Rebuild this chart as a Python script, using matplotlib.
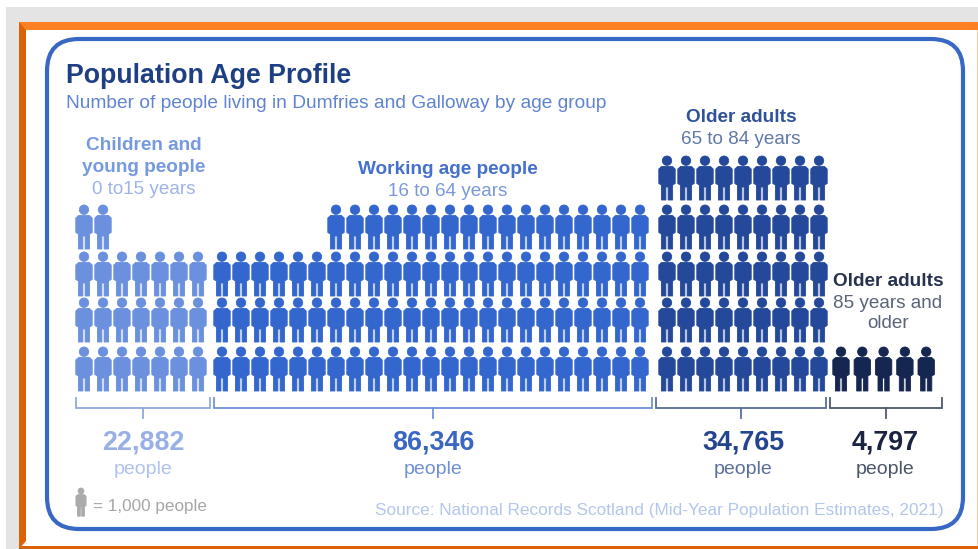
import matplotlib
matplotlib.use("Agg")
import matplotlib.pyplot as plt
from matplotlib.path import Path
from matplotlib.patches import PathPatch, Rectangle, FancyBboxPatch, Polygon
from matplotlib.transforms import Affine2D

plt.rcParams['font.family'] = ['Liberation Sans', 'DejaVu Sans']

# ---- data ----
totals = ["22,882", "86,346", "34,765", "4,797"]
children_columns = [4, 4, 3, 3, 3, 3, 3]
working_columns = [3, 3, 3, 3, 3, 3] + [4] * 17
older_columns = [5] * 9
oldest_columns = [1] * 5
column_heights = [children_columns, working_columns, older_columns, oldest_columns]
unit_label = "= 1,000 people"

# ---- styles ----
W, H = 979, 549
colors = ["#6B90DE", "#3467CE", "#25499A", "#152650"]
bracket_colors = ["#90A8E0", "#6E92DA", "#5A6E9C", "#4E5868"]
total_colors = ["#98B0E6", "#3A66C4", "#23448F", "#1A2440"]
people_colors = ["#AFC2EC", "#6F90D6", "#5A6E9C", "#4A5568"]
start_x = [84, 222, 667, 841]
step_x = [19, 19, 19, 21.3]
row_tops = [347, 298, 252, 205, 156]
bracket_x = [(76, 210), (214, 652), (656, 826), (830, 942)]
total_x = [143, 433, 743, 885]

fig = plt.figure(figsize=(W / 100, H / 100), dpi=100)
ax = fig.add_axes([0, 0, 1, 1])
ax.set_xlim(0, W)
ax.set_ylim(H, 0)
ax.axis("off")

# ---- frame ----
ax.add_patch(Rectangle((6, 7), W - 6, 16, fc="#E4E4E4", ec="none"))
ax.add_patch(Rectangle((6, 7), 13, H - 7, fc="#E4E4E4", ec="none"))
ax.add_patch(Rectangle((19, 22), W - 19, H - 22, fc="#FFFFFF", ec="none"))
ax.add_patch(Rectangle((19, 22), W - 19, 8, fc="#FF8023", ec="none"))
ax.add_patch(Polygon([(19, 22), (26, 30), (26, 541), (19, 549)], fc="#DB6206", ec="none"))
ax.add_patch(Rectangle((19, 546), W - 19, 3, fc="#DB6206", ec="none"))
ax.add_patch(Rectangle((977.5, 30), 1.5, 516, fc="#FBC79E", ec="none"))
ax.add_patch(FancyBboxPatch((47, 39), 916, 490,
                            boxstyle="round,pad=0,rounding_size=32",
                            fc="white", ec="#3868C6", lw=3.0))

# ---- pictogram glyph: origin at top centre, 16 px wide, 44 px tall ----
body = [(-5.5, 10.5), (5.5, 10.5), (8.2, 13), (8.2, 27.5), (5.6, 29), (5.6, 44), (1.1, 44), (1.1, 31),
        (-1.1, 31), (-1.1, 44), (-5.6, 44), (-5.6, 29), (-8.2, 27.5), (-8.2, 13), (-5.5, 10.5)]
head = Path.circle((0, 4.7), 4.7)
glyph = Path.make_compound_path(
    head, Path(body, [Path.MOVETO] + [Path.LINETO] * (len(body) - 2) + [Path.CLOSEPOLY]))


def person(x, y, color, sx=1.0, sy=1.0):
    tr = Affine2D().scale(sx, sy).translate(x, y) + ax.transData
    ax.add_patch(PathPatch(glyph, fc=color, ec=color, lw=0.6, joinstyle="round", transform=tr))


for g, heights in enumerate(column_heights):
    for c, n in enumerate(heights):
        for r in range(n):
            person(start_x[g] + c * step_x[g], row_tops[r], colors[g])

# ---- brackets and totals ----
for g, (x0, x1) in enumerate(bracket_x):
    mid = (x0 + x1) / 2
    ax.plot([x0, x0, x1, x1], [398, 408, 408, 398], color=bracket_colors[g], lw=1.3, solid_joinstyle="miter")
    ax.plot([mid, mid], [408, 418], color=bracket_colors[g], lw=1.3)
    ax.text(total_x[g], 443, totals[g], ha="center", va="center", fontsize=19.4,
            fontweight="bold", color=total_colors[g])
    ax.text(total_x[g], 469.5, "people", ha="center", va="center", fontsize=14.0, color=people_colors[g])

# ---- titles ----
ax.text(66, 76, "Population Age Profile", ha="left", va="center", fontsize=19.3,
        fontweight="bold", color="#1F3F85")
ax.text(66, 103, "Number of people living in Dumfries and Galloway by age group",
        ha="left", va="center", fontsize=13.8, color="#5E83D0")

# ---- group headers ----
ax.text(143.5, 145, "Children and", ha="center", va="center", fontsize=13.7, fontweight="bold", color="#769AE0")
ax.text(143.5, 168, "young people", ha="center", va="center", fontsize=13.7, fontweight="bold", color="#769AE0")
ax.text(144, 189, "0 to15 years", ha="center", va="center", fontsize=13.6, color="#9DB4E8")
ax.text(448, 170, "Working age people", ha="center", va="center", fontsize=13.7, fontweight="bold", color="#4570CC")
ax.text(448, 191, "16 to 64 years", ha="center", va="center", fontsize=13.6, color="#7A98DA")
ax.text(741, 118, "Older adults", ha="center", va="center", fontsize=13.7, fontweight="bold", color="#2F5298")
ax.text(741, 139, "65 to 84 years", ha="center", va="center", fontsize=13.6, color="#6078A8")
ax.text(888, 281, "Older adults", ha="center", va="center", fontsize=13.7, fontweight="bold", color="#26324E")
ax.text(888, 303, "85 years and", ha="center", va="center", fontsize=13.6, color="#5A6478")
ax.text(888, 324, "older", ha="center", va="center", fontsize=13.6, color="#5A6478")

# ---- key and source ----
person(81, 488, "#ABABAB", sx=0.62, sy=0.64)
ax.text(93, 506, unit_label, ha="left", va="center", fontsize=12.3, color="#A6A6A6")
ax.text(944, 510.5, "Source: National Records Scotland (Mid-Year Population Estimates, 2021)",
        ha="right", va="center", fontsize=12.4, color="#B3C6EC")

fig.savefig("out.png", dpi=100)
